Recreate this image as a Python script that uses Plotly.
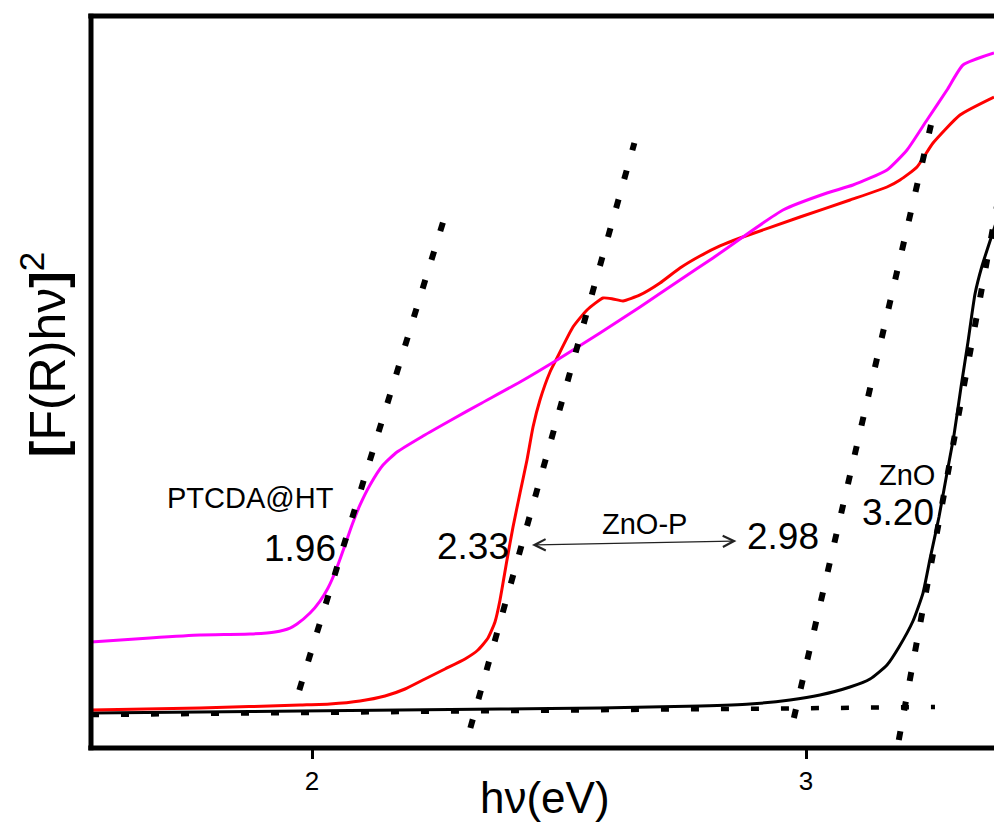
import numpy as np
import plotly.graph_objects as go

# Photon energy (eV) and Kubelka-Munk function [F(R)hν]^2 (arbitrary units)
ptcda_ev = [1.5526, 1.6721, 1.7733, 1.8745, 1.9251, 1.9555, 1.9696, 1.9960, 2.0162,
            2.0324, 2.0486, 2.0648, 2.0810, 2.0972, 2.1174, 2.1437, 2.1721, 2.2247,
            2.2854, 2.3401, 2.4211, 2.4960, 2.5830, 2.6640, 2.7449, 2.8117, 2.8664,
            2.9534, 3.0425, 3.0951, 3.1640, 3.2045, 3.2449, 3.2854, 3.3178, 3.3806]
ptcda_km = [14.48, 15.03, 15.44, 15.57, 15.85, 16.39, 16.94, 18.44, 20.08,
            21.86, 24.32, 27.32, 30.46, 33.20, 35.93, 38.66, 40.44, 42.62,
            44.95, 47.00, 50.00, 53.01, 56.69, 60.25, 63.93, 66.94, 69.54,
            73.50, 75.82, 76.91, 78.96, 81.69, 85.79, 89.89, 93.31, 94.95]

znop_ev = [1.5526, 1.7733, 1.9757, 2.0364, 2.0972, 2.1478, 2.1883, 2.2287, 2.2692,
           2.3097, 2.3360, 2.3563, 2.3704, 2.3806, 2.3947, 2.4069, 2.4211, 2.4352,
           2.4474, 2.4615, 2.4818, 2.4960, 2.5283, 2.5567, 2.5891, 2.6093, 2.6296,
           2.6640, 2.7045, 2.7449, 2.7854, 2.8259, 2.8664, 2.9879, 3.0891, 3.1640,
           3.1903, 3.2247, 3.2571, 3.3117, 3.3806]
znop_km = [5.19, 5.46, 5.87, 6.01, 6.42, 7.10, 8.06, 9.43, 10.79,
           12.16, 13.39, 15.03, 17.21, 20.22, 25.68, 30.19, 34.84, 39.34,
           43.85, 47.54, 51.37, 53.28, 57.51, 59.84, 61.48, 61.34, 61.07,
           61.89, 63.52, 65.57, 67.21, 68.58, 69.67, 72.54, 74.86, 76.64,
           77.60, 79.37, 82.65, 86.48, 88.93]

zno_ev = [1.5526, 1.7733, 1.9757, 2.1781, 2.3806, 2.5830, 2.7854, 2.8866, 2.9676,
          3.0283, 3.0891, 3.1296, 3.1640, 3.1883, 3.2166, 3.2368, 3.2510, 3.2692,
          3.2854, 3.2996, 3.3138, 3.3279, 3.3421, 3.3563, 3.3765, 3.3927]
zno_km = [4.78, 4.92, 5.05, 5.19, 5.33, 5.46, 5.74, 6.01, 6.56,
          7.24, 8.33, 9.43, 11.34, 13.80, 17.35, 21.17, 25.82, 31.56,
          37.57, 42.76, 49.32, 55.46, 62.02, 65.85, 70.08, 73.36]

# Common baseline used for the Tauc extrapolation
baseline_ev = [1.5526, 3.2611]
baseline_km = [4.51, 5.60]

# Band gaps read from the baseline intercepts of the linear fits
band_gaps = [1.96, 2.33, 2.98, 3.20]
gap_labels = ["1.96", "2.33", "2.98", "3.20"]
tangent_slopes = [219.7, 240.7, 292.0, 367.0]          # a.u. per eV
tangent_spans = [(7.92, 72.4), (2.73, 82.65), (4.10, 85.11), (1.09, 80.0)]
gap_label_pos = [(1.9757, 27.32), (2.3259, 27.46), (2.9534, 28.83), (3.1862, 32.24)]

x_ticks = [2, 3]
x_range = [1.55263, 3.38057]
y_range = [0, 100]

FONT = "Liberation Sans, Arial, Helvetica, sans-serif"


def baseline_at(e):
    slope = (baseline_km[1] - baseline_km[0]) / (baseline_ev[1] - baseline_ev[0])
    return baseline_km[0] + (e - baseline_ev[0]) * slope


fig = go.Figure()

# baseline
fig.add_trace(go.Scatter(x=baseline_ev, y=baseline_km, mode="lines",
                         line=dict(color="black", width=4.5, dash="8px,22px"),
                         hoverinfo="skip"))

# spectra
curve_line = dict(width=3, shape="spline", smoothing=0.5)
fig.add_trace(go.Scatter(x=zno_ev, y=zno_km, mode="lines", name="ZnO",
                         line=dict(color="black", **curve_line)))
fig.add_trace(go.Scatter(x=znop_ev, y=znop_km, mode="lines", name="ZnO-P",
                         line=dict(color="#ff0000", **curve_line)))
fig.add_trace(go.Scatter(x=ptcda_ev, y=ptcda_km, mode="lines", name="PTCDA@HT",
                         line=dict(color="#ff00ff", **curve_line)))

# linear extrapolations through each band gap
for eg, slope, (y0, y1) in zip(band_gaps, tangent_slopes, tangent_spans):
    yb = baseline_at(eg)
    xs = [eg + (y0 - yb) / slope, eg + (y1 - yb) / slope]
    fig.add_trace(go.Scatter(x=xs, y=[y0, y1], mode="lines",
                             line=dict(color="black", width=6, dash="9px,21px"),
                             hoverinfo="skip"))

annotations = []
for label, (lx, ly) in zip(gap_labels, gap_label_pos):
    annotations.append(dict(x=lx, y=ly, xref="x", yref="y", text=label, showarrow=False,
                            font=dict(family=FONT, size=37, color="black")))

annotations += [
    dict(x=1.8745, y=34.15, xref="x", yref="y", text="PTCDA@HT", showarrow=False,
         font=dict(family=FONT, size=29, color="black")),
    dict(x=2.6721, y=30.6, xref="x", yref="y", text="ZnO-P", showarrow=False,
         font=dict(family=FONT, size=29, color="black")),
    dict(x=3.2045, y=37.3, xref="x", yref="y", text="ZnO", showarrow=False,
         font=dict(family=FONT, size=29, color="black")),
    # double-headed arrow between the two ZnO-P edges
    dict(x=2.4453, y=27.73, xref="x", yref="y", ax=2.8623, ay=28.28, axref="x", ayref="y",
         text="", showarrow=True, arrowhead=5, startarrowhead=5, arrowside="end+start",
         arrowsize=1.7, startarrowsize=1.7, arrowwidth=1.3, arrowcolor="#222222",
         standoff=0, startstandoff=0),
    # axis titles
    dict(x=0.503, y=-0.068, xref="paper", yref="paper", text="hν(eV)", showarrow=False,
         xanchor="center", yanchor="middle",
         font=dict(family=FONT, size=44, color="black")),
    dict(x=-0.052, y=0.538, xref="paper", yref="paper",
         text="<b>[</b>F(R)hν<b>]</b><sup>2</sup>", showarrow=False, textangle=-90,
         xanchor="center", yanchor="middle",
         font=dict(family=FONT, size=50, color="black")),
]

# frame: left, bottom and top edges
frame = [
    dict(type="line", xref="paper", yref="paper", x0=0, x1=0, y0=-0.003, y1=1.003,
         line=dict(color="black", width=5), layer="above"),
    dict(type="line", xref="paper", yref="paper", x0=-0.003, x1=1, y0=0, y1=0,
         line=dict(color="black", width=5), layer="above"),
    dict(type="line", xref="paper", yref="paper", x0=-0.003, x1=1, y0=1, y1=1,
         line=dict(color="black", width=5), layer="above"),
]

fig.update_layout(
    width=994, height=823,
    margin=dict(l=91, r=0, t=16, b=75),
    paper_bgcolor="white", plot_bgcolor="white",
    showlegend=False,
    annotations=annotations,
    shapes=frame,
    xaxis=dict(range=x_range, tickvals=x_ticks, ticktext=[str(t) for t in x_ticks],
               ticks="outside", ticklen=10, tickwidth=3, tickcolor="black",
               showgrid=False, zeroline=False, showline=False,
               tickfont=dict(family=FONT, size=26, color="black")),
    yaxis=dict(range=y_range, showticklabels=False, ticks="", showgrid=False,
               zeroline=False, showline=False),
)

fig.write_html("out.html")
